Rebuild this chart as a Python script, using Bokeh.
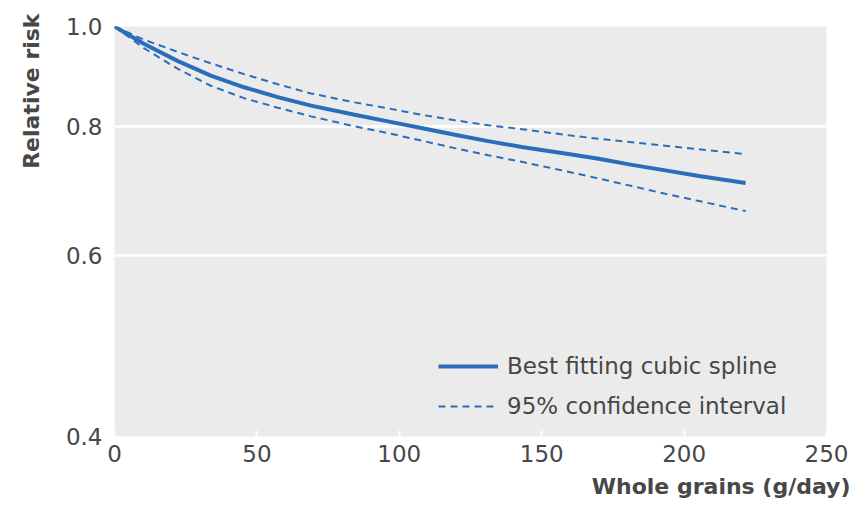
from bokeh.plotting import figure
from bokeh.models import (Title, FixedTicker, PrintfTickFormatter, Range1d,
                          Legend, LegendItem)
from bokeh.embed import file_html
from bokeh.resources import INLINE

# data
grains = [0, 10.3, 22.1, 33.8, 45.5, 57.3, 69.0, 84.3, 96.0, 107.7, 119.5, 131.2,
          143.0, 158.2, 170.0, 181.7, 193.4, 205.2, 221.6]
rr_fit = [1.0, 0.962, 0.926, 0.896, 0.873, 0.854, 0.838, 0.821, 0.809, 0.797, 0.785,
          0.774, 0.764, 0.753, 0.744, 0.734, 0.725, 0.716, 0.705]
rr_upper = [1.0, 0.971, 0.945, 0.921, 0.899, 0.879, 0.861, 0.844, 0.833, 0.821, 0.811,
            0.802, 0.795, 0.785, 0.778, 0.772, 0.766, 0.760, 0.752]
rr_lower = [1.0, 0.953, 0.910, 0.876, 0.852, 0.834, 0.818, 0.800, 0.788, 0.775, 0.762,
            0.750, 0.739, 0.724, 0.712, 0.700, 0.688, 0.677, 0.662]
x_ticks = [0, 50, 100, 150, 200, 250]
y_ticks = [0.4, 0.6, 0.8, 1.0]

FONT = "DejaVu Sans"
TXT = "#474747"
BLUE = "#2A6EBB"

p = figure(width=852, height=516, output_backend="svg", toolbar_location=None,
           y_axis_type="log", x_range=Range1d(0, 250), y_range=Range1d(0.4, 1.0),
           min_border_left=114, min_border_right=26, min_border_top=26,
           min_border_bottom=80)
p.background_fill_color = "#ebebeb"
p.border_fill_color = "white"
p.outline_line_color = None

p.xgrid.grid_line_color = None
p.ygrid.grid_line_color = "white"
p.ygrid.grid_line_width = 2.5
p.ygrid.ticker = FixedTicker(ticks=y_ticks)

p.xaxis.ticker = FixedTicker(ticks=x_ticks)
p.yaxis.ticker = FixedTicker(ticks=y_ticks)
p.yaxis.formatter = PrintfTickFormatter(format="%.1f")
for ax in (p.xaxis, p.yaxis):
    ax.axis_line_color = None
    ax.minor_tick_line_color = None
    ax.major_label_text_font = FONT
    ax.major_label_text_font_size = "23px"
    ax.major_label_text_color = TXT
p.xaxis.major_tick_line_color = "white"
p.xaxis.major_tick_line_width = 2
p.xaxis.major_tick_in = 6
p.xaxis.major_tick_out = 0
p.xaxis.major_label_standoff = 8
p.yaxis.major_tick_line_color = None
p.yaxis.major_label_standoff = 6

r_fit = p.line(grains, rr_fit, line_color=BLUE, line_width=4)
r_up = p.line(grains, rr_upper, line_color=BLUE, line_width=2, line_dash="7 5")
p.line(grains, rr_lower, line_color=BLUE, line_width=2, line_dash="7 5")

legend = Legend(items=[LegendItem(label="Best fitting cubic spline", renderers=[r_fit]),
                       LegendItem(label="95% confidence interval", renderers=[r_up])],
                location=(324, 12), background_fill_alpha=0, border_line_color=None,
                padding=0, margin=0, glyph_width=60, glyph_height=36, spacing=4,
                label_standoff=9, label_text_font=FONT, label_text_font_size="23px",
                label_text_color=TXT, label_height=36)
p.add_layout(legend, "center")

p.add_layout(Title(text="Whole grains (g/day)", align="right", offset=-24, standoff=14,
                   text_font=FONT, text_font_size="22px", text_font_style="bold",
                   text_color=TXT), "below")
p.add_layout(Title(text="Relative risk", align="right", offset=-13, standoff=34,
                   vertical_align="top",
                   text_font=FONT, text_font_size="22px", text_font_style="bold",
                   text_color=TXT), "left")

open("out.html", "w").write(file_html(p, INLINE))
